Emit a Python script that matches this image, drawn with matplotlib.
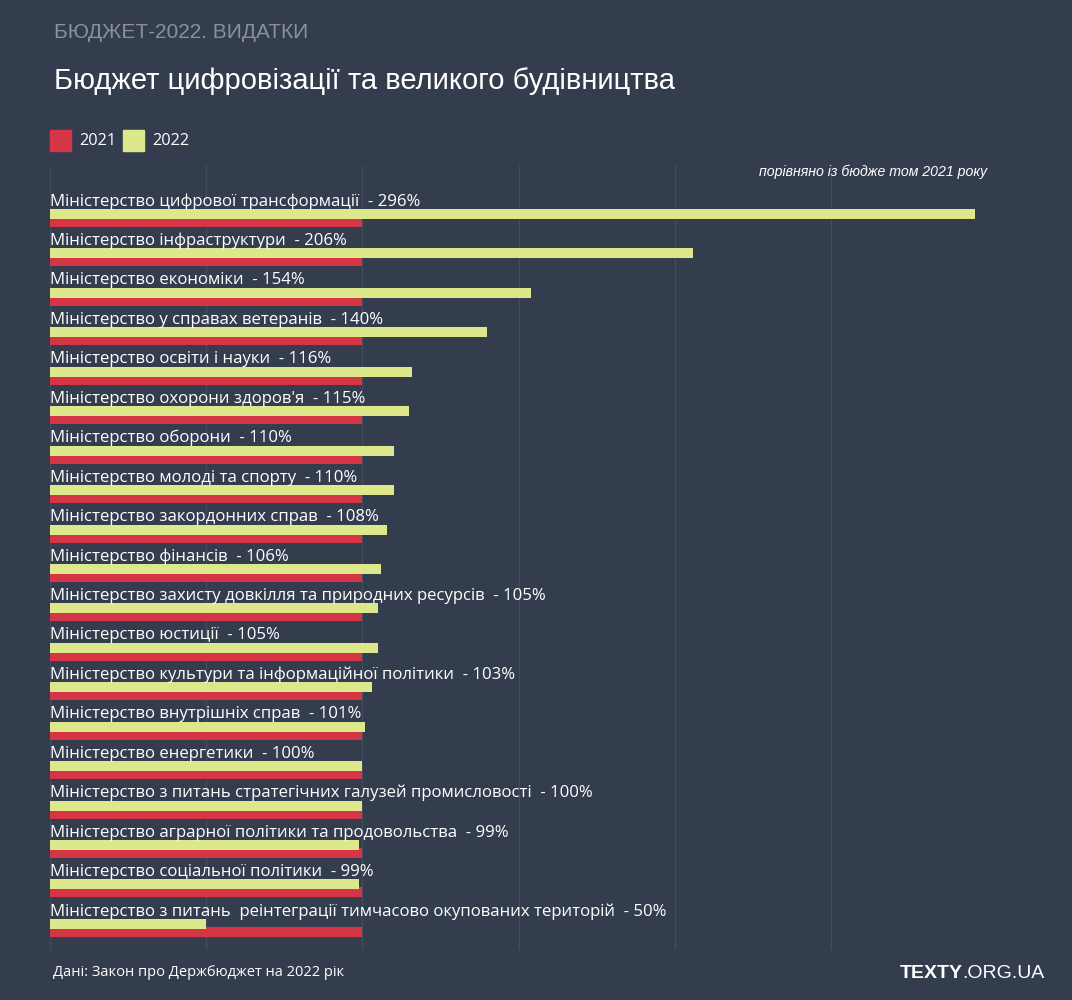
import matplotlib.pyplot as plt
from matplotlib.patches import Rectangle

# data: 2022 budget as % of 2021 budget
ministries = [
    "Міністерство цифрової трансформації",
    "Міністерство інфраструктури",
    "Міністерство економіки",
    "Міністерство у справах ветеранів",
    "Міністерство освіти і науки",
    "Міністерство охорони здоров'я",
    "Міністерство оборони",
    "Міністерство молоді та спорту",
    "Міністерство закордонних справ",
    "Міністерство фінансів",
    "Міністерство захисту довкілля та природних ресурсів",
    "Міністерство юстиції",
    "Міністерство культури та інформаційної політики",
    "Міністерство внутрішніх справ",
    "Міністерство енергетики",
    "Міністерство з питань стратегічних галузей промисловості",
    "Міністерство аграрної політики та продовольства",
    "Міністерство соціальної політики",
    "Міністерство з питань  реінтеграції тимчасово окупованих територій",
]
pct_2022 = [296, 206, 154, 140, 116, 115, 110, 110, 108, 106, 105, 105, 103, 101, 100, 100, 99, 99, 50]
pct_2021 = [100] * len(ministries)

BG = "#343d4e"
RED = "#d63545"
YELLOW = "#dde88c"
GRID = "#434c5d"
TEXT = "#ffffff"

W, H = 1072, 1000
fig = plt.figure(figsize=(W / 100, H / 100), dpi=100, facecolor=BG)

# axes spans x 50..987 px, y 166..950 px
ax = fig.add_axes([50 / W, 1 - 950 / H, 937 / W, (950 - 166) / H])
ax.set_facecolor(BG)
row = 39.44
ax.set_xlim(0, 300)
ax.set_ylim((950 - 200) / row, -(200 - 166) / row)
for s in ax.spines.values():
    s.set_visible(False)
ax.set_xticks(range(0, 301, 50))
ax.set_yticks([])
ax.tick_params(axis="x", length=0, labelbottom=False)
ax.grid(axis="x", color=GRID, linewidth=1)
ax.set_axisbelow(True)

ys = list(range(len(ministries)))
bh = 10 / row
ax.barh([y + 22 / row for y in ys], pct_2021, height=bh, color=RED, zorder=2)
ax.barh([y + 14 / row for y in ys], pct_2022, height=bh, color=YELLOW, zorder=3)
for y, name, v in zip(ys, ministries, pct_2022):
    ax.text(0, y + 1.5 / row, f"{name}  - {v}%", color=TEXT, fontsize=12.1, family="Open Sans",
            va="center", ha="left", zorder=4)

# titles
fig.text(54 / W, 1 - 32 / H, "БЮДЖЕТ-2022. ВИДАТКИ", color="#8b919b", fontsize=15,
         family="Liberation Sans", va="center")
fig.text(54 / W, 1 - 81 / H, "Бюджет цифровізації та великого будівництва", color=TEXT,
         fontsize=21, family="Liberation Sans", va="center")

# legend
for x0, c, lab in [(50, RED, "2021"), (123, YELLOW, "2022")]:
    fig.patches.append(Rectangle((x0 / W, 1 - 151 / H), 21 / W, 21 / H,
                                 transform=fig.transFigure, color=c))
    fig.text((x0 + 29) / W, 1 - 141 / H, lab, color=TEXT, fontsize=11.7,
             family="Open Sans", va="center")

fig.text(987 / W, 1 - 172 / H, "порівняно із бюдже том 2021 року", color=TEXT,
         fontsize=10.2, family="Liberation Sans", style="italic", ha="right", va="center")

# footer
fig.text(53 / W, 1 - 972 / H, "Дані: Закон про Держбюджет на 2022 рік", color=TEXT,
         fontsize=10.5, family="Open Sans", va="center")
org = fig.text(1045 / W, 1 - 973 / H, ".ORG.UA", color=TEXT, fontsize=14,
               family="Liberation Sans", va="center", ha="right")
fig.canvas.draw()
bb = org.get_window_extent()
fig.text(bb.x0 / W, 1 - 973 / H, "TEXTY", color=TEXT, fontsize=14, fontweight="bold",
         family="Liberation Sans", va="center", ha="right")

fig.savefig("out.png", dpi=100, facecolor=BG)
